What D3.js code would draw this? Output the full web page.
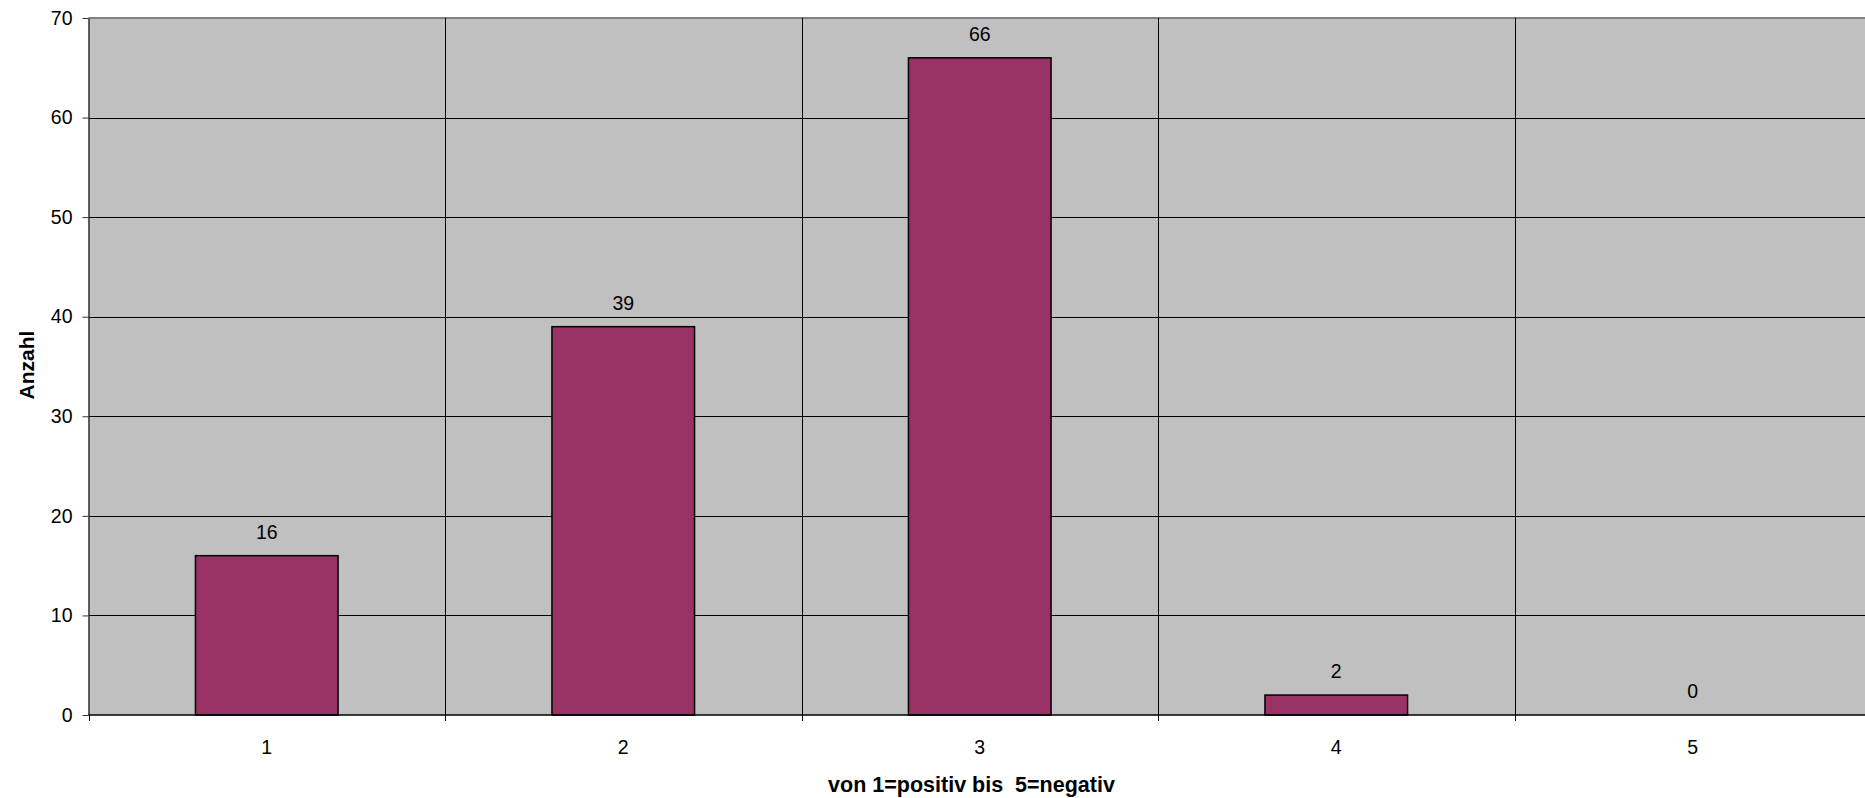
<!DOCTYPE html>
<html>
<head>
<meta charset="utf-8">
<script src="https://cdn.jsdelivr.net/npm/d3@7"></script>
<style>
html,body{margin:0;padding:0;background:#fff;}
svg{display:block;}
text{font-family:"Liberation Sans",Arial,sans-serif;fill:#000;}
</style>
</head>
<body>
<svg id="chart" width="1865" height="798"></svg>
<script>
const categories = ["1","2","3","4","5"];
const values = [16, 39, 66, 2, 0];
const yTicks = [0,10,20,30,40,50,60,70];
const xTitle = "von 1=positiv bis  5=negativ";
const yTitle = "Anzahl";

(function () {
const pLeft = 88.5, pRight = 1871, pTop = 18, pBottom = 715;

const svg = d3.select("#chart");
const x = d3.scaleBand().domain(categories).range([pLeft, pRight]).paddingInner(0).paddingOuter(0);
const y = d3.scaleLinear().domain([0, 70]).range([pBottom, pTop]);

// plot background
svg.append("rect").attr("x", pLeft).attr("y", pTop)
  .attr("width", pRight - pLeft).attr("height", pBottom - pTop)
  .attr("fill", "#c0c0c0");

// horizontal gridlines
svg.append("g").selectAll("line").data(yTicks.filter(d => d > 0 && d < 70)).join("line")
  .attr("x1", pLeft).attr("x2", pRight)
  .attr("y1", d => Math.round(y(d)) + 0.5).attr("y2", d => Math.round(y(d)) + 0.5)
  .attr("stroke", "#000").attr("stroke-width", 1);
// top border
svg.append("line").attr("x1", pLeft).attr("x2", pRight)
  .attr("y1", y(70)).attr("y2", y(70))
  .attr("stroke", "#808080").attr("stroke-width", 2);

// vertical gridlines at band boundaries
svg.append("g").selectAll("line").data(categories.slice(1)).join("line")
  .attr("x1", d => Math.round(x(d)) + 0.5).attr("x2", d => Math.round(x(d)) + 0.5)
  .attr("y1", pTop).attr("y2", pBottom)
  .attr("stroke", "#000").attr("stroke-width", 1);

// bars
const bw = x.bandwidth() * 0.4;
svg.append("g").selectAll("rect").data(values).join("rect")
  .attr("x", (d, i) => x(categories[i]) + x.bandwidth() / 2 - bw / 2)
  .attr("y", d => y(d))
  .attr("width", bw)
  .attr("height", d => y(0) - y(d))
  .attr("fill", "#993366")
  .attr("stroke", "#000").attr("stroke-width", 1.5);

// value labels
svg.append("g").selectAll("text").data(values).join("text")
  .attr("x", (d, i) => x(categories[i]) + x.bandwidth() / 2)
  .attr("y", d => y(d) - 24)
  .attr("text-anchor", "middle").attr("dominant-baseline", "central")
  .attr("font-size", "19.5px")
  .text(d => d);

// y axis
const yAxis = d3.axisLeft(y).tickValues(yTicks).tickSize(6).tickPadding(10).tickSizeOuter(0);
const gy = svg.append("g").attr("transform", `translate(${pLeft},0)`).call(yAxis);
gy.select(".domain").attr("stroke", "#333").attr("stroke-width", 1.5);
gy.selectAll(".tick line").attr("stroke", "#333");
gy.selectAll(".tick text").attr("font-size", "19.5px").attr("font-family", "Liberation Sans, Arial, sans-serif").attr("fill", "#000");

// x axis line
svg.append("line").attr("x1", pLeft).attr("x2", pRight)
  .attr("y1", pBottom).attr("y2", pBottom)
  .attr("stroke", "#000").attr("stroke-width", 1.5);
// x tick marks at band boundaries
const bounds = categories.map(c => x(c));
svg.append("g").selectAll("line").data(bounds).join("line")
  .attr("x1", d => Math.round(d) + 0.5).attr("x2", d => Math.round(d) + 0.5)
  .attr("y1", pBottom).attr("y2", pBottom + 6)
  .attr("stroke", "#000").attr("stroke-width", 1);
// x tick labels
svg.append("g").selectAll("text").data(categories).join("text")
  .attr("x", d => x(d) + x.bandwidth() / 2)
  .attr("y", 747)
  .attr("text-anchor", "middle").attr("dominant-baseline", "central")
  .attr("font-size", "19.5px")
  .text(d => d);

// axis titles
svg.append("text").attr("x", 971.5).attr("y", 785)
  .attr("text-anchor", "middle").attr("dominant-baseline", "central")
  .attr("font-size", "21.5px").attr("font-weight", "bold")
  .style("white-space", "pre").attr("xml:space", "preserve")
  .text(xTitle);
svg.append("text").attr("transform", "translate(26,365) rotate(-90)")
  .attr("text-anchor", "middle").attr("dominant-baseline", "central")
  .attr("font-size", "21px").attr("font-weight", "bold")
  .text(yTitle);
})();
</script>
</body>
</html>
